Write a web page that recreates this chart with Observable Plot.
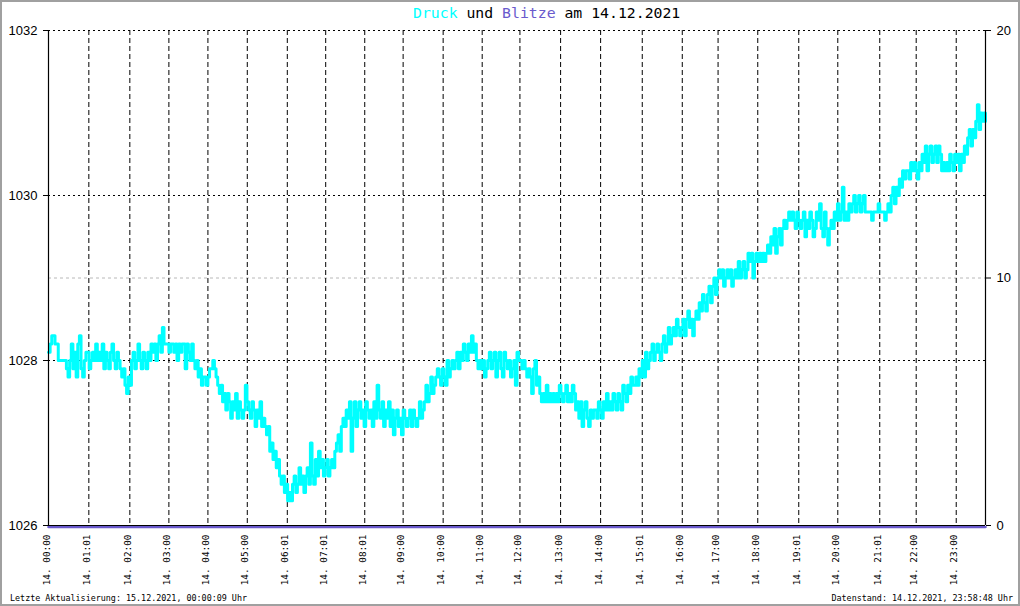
<!DOCTYPE html>
<html>
<head>
<meta charset="utf-8">
<script src="https://cdn.jsdelivr.net/npm/d3@7"></script>
<script src="https://cdn.jsdelivr.net/npm/@observablehq/plot@0.6"></script>
<style>
  body { margin: 0; background: #fff; }
  #wrap { position: relative; width: 1020px; height: 606px; background: #fff; overflow: hidden; }
  #frame { position: absolute; left: 0; top: 0; width: 1020px; height: 606px; box-sizing: border-box; border: 2px solid #a0a0a0; pointer-events: none; }
  #chart { position: absolute; left: 0; top: 0; }
  #title { position: absolute; left: 413px; top: 4.5px; font-family: "DejaVu Sans Mono", monospace; font-size: 14.8px; line-height: 15px; white-space: pre; color: #000; }
  .foot { position: absolute; top: 594px; font-family: "DejaVu Sans Mono", monospace; font-size: 8.4px; line-height: 9px; white-space: pre; color: #000; }
</style>
</head>
<body>
<div id="wrap">
  <div id="chart"></div>
  <div id="title"><span style="color:#00ffff">Druck</span> und <span style="color:#6a5acd">Blitze</span> am 14.12.2021</div>
  <div class="foot" style="left:10px">Letzte Aktualisierung: 15.12.2021, 00:00:09 Uhr</div>
  <div class="foot" style="right:7px">Datenstand: 14.12.2021, 23:58:48 Uhr</div>
  <div id="frame"></div>
</div>
<script>
// Luftdruck (hPa), Messwerte in Folge (Index-basierte x-Achse wie im Original), je Zeile eine Stunde
const pressure = [
  1028.1, 1028.2, 1028.3, 1028.3, 1028.2, 1028.2, 1028.0, 1028.0, 1028.0, 1028.0, 1028.0, 1027.9, 1027.8, 1028.0, 1028.2, 1027.9, 1028.1, 1027.8, 1028.2, 1028.3, 1027.9, 1027.8, 1028.0, 1028.1,
  1028.1, 1027.9, 1028.0, 1028.1, 1028.0, 1028.2, 1028.0, 1028.1, 1028.0, 1028.2, 1027.9, 1028.1, 1028.0, 1027.9, 1028.1, 1028.2, 1028.0, 1027.9, 1028.1, 1028.0, 1027.9, 1027.8, 1027.9, 1027.7,
  1027.6, 1027.8, 1027.7, 1028.0, 1028.1, 1027.9, 1028.0, 1028.2, 1028.0, 1027.9, 1028.1, 1028.0, 1027.9, 1028.1, 1028.0, 1028.2, 1028.1, 1028.2, 1028.0, 1028.2, 1028.3, 1028.1, 1028.4, 1028.2,
  1028.2, 1028.2, 1028.1, 1028.2, 1028.2, 1028.1, 1028.2, 1028.0, 1028.2, 1028.1, 1028.2, 1028.2, 1027.9, 1028.2, 1028.1, 1028.0, 1028.2, 1028.0, 1027.9, 1028.0, 1027.8, 1027.9, 1027.7, 1027.8,
  1027.8, 1027.7, 1027.8, 1027.9, 1027.9, 1028.0, 1027.9, 1027.8, 1027.7, 1027.6, 1027.7, 1027.5, 1027.6, 1027.4, 1027.6, 1027.5, 1027.3, 1027.5, 1027.4, 1027.6, 1027.3, 1027.5, 1027.4, 1027.3,
  1027.4, 1027.7, 1027.5, 1027.4, 1027.3, 1027.5, 1027.4, 1027.2, 1027.4, 1027.3, 1027.5, 1027.2, 1027.3, 1027.2, 1027.1, 1027.2, 1026.9, 1027.0, 1026.8, 1026.9, 1026.7, 1026.8, 1026.6, 1026.5,
  1026.6, 1026.4, 1026.5, 1026.3, 1026.4, 1026.3, 1026.5, 1026.6, 1026.4, 1026.5, 1026.7, 1026.5, 1026.6, 1026.4, 1026.6, 1026.7, 1026.5, 1027.0, 1026.6, 1026.5, 1026.8, 1026.6, 1026.9, 1026.7,
  1026.8, 1026.6, 1026.7, 1026.8, 1026.6, 1026.7, 1026.8, 1026.7, 1026.9, 1027.0, 1027.1, 1026.9, 1027.2, 1027.3, 1027.2, 1027.4, 1027.3, 1027.5, 1026.9, 1027.3, 1027.5, 1027.2, 1027.4, 1027.5,
  1027.3, 1027.4, 1027.2, 1027.5, 1027.4, 1027.3, 1027.4, 1027.2, 1027.5, 1027.3, 1027.7, 1027.4, 1027.3, 1027.5, 1027.2, 1027.4, 1027.3, 1027.5, 1027.2, 1027.4, 1027.1, 1027.3, 1027.4, 1027.2,
  1027.3, 1027.1, 1027.4, 1027.3, 1027.2, 1027.3, 1027.4, 1027.2, 1027.4, 1027.3, 1027.2, 1027.3, 1027.5, 1027.3, 1027.4, 1027.5, 1027.7, 1027.5, 1027.6, 1027.8, 1027.6, 1027.7, 1027.8, 1027.9,
  1027.8, 1027.7, 1027.9, 1027.8, 1027.7, 1028.0, 1027.8, 1027.9, 1028.0, 1027.9, 1028.0, 1028.1, 1027.9, 1028.1, 1028.0, 1028.2, 1028.1, 1028.0, 1028.2, 1028.1, 1028.3, 1028.1, 1028.2, 1028.0,
  1027.9, 1028.0, 1027.9, 1028.0, 1027.8, 1027.9, 1028.0, 1028.1, 1027.9, 1028.0, 1028.1, 1027.8, 1028.0, 1028.1, 1027.9, 1027.8, 1028.1, 1028.0, 1027.9, 1028.0, 1027.8, 1027.9, 1028.0, 1027.7,
  1028.1, 1028.0, 1028.0, 1027.9, 1028.0, 1027.9, 1027.8, 1027.9, 1027.8, 1027.6, 1027.9, 1028.0, 1027.7, 1027.8, 1027.6, 1027.5, 1027.6, 1027.5, 1027.7, 1027.5, 1027.6, 1027.5, 1027.6, 1027.5,
  1027.6, 1027.5, 1027.7, 1027.6, 1027.5, 1027.6, 1027.7, 1027.5, 1027.6, 1027.5, 1027.7, 1027.6, 1027.4, 1027.5, 1027.3, 1027.5, 1027.2, 1027.4, 1027.5, 1027.3, 1027.2, 1027.4, 1027.3, 1027.4,
  1027.4, 1027.3, 1027.5, 1027.4, 1027.3, 1027.5, 1027.4, 1027.6, 1027.4, 1027.5, 1027.4, 1027.6, 1027.5, 1027.4, 1027.6, 1027.5, 1027.4, 1027.7, 1027.6, 1027.5, 1027.7, 1027.6, 1027.8, 1027.7,
  1027.7, 1027.8, 1027.7, 1027.9, 1027.8, 1028.0, 1027.8, 1028.1, 1027.9, 1028.0, 1028.1, 1028.2, 1028.0, 1028.1, 1028.2, 1028.1, 1028.0, 1028.2, 1028.3, 1028.1, 1028.2, 1028.4, 1028.2, 1028.3,
  1028.4, 1028.3, 1028.5, 1028.4, 1028.3, 1028.4, 1028.5, 1028.3, 1028.5, 1028.6, 1028.4, 1028.5, 1028.3, 1028.5, 1028.6, 1028.5, 1028.7, 1028.6, 1028.8, 1028.7, 1028.6, 1028.8, 1028.9, 1028.7,
  1028.9, 1029.0, 1028.8, 1029.0, 1029.1, 1029.0, 1029.1, 1028.9, 1029.0, 1029.1, 1029.0, 1029.1, 1028.9, 1029.0, 1029.1, 1029.0, 1029.2, 1029.0, 1029.1, 1029.2, 1029.0, 1029.1, 1029.3, 1029.2,
  1029.3, 1029.0, 1029.2, 1029.3, 1029.2, 1029.3, 1029.2, 1029.3, 1029.2, 1029.3, 1029.4, 1029.3, 1029.5, 1029.4, 1029.6, 1029.3, 1029.5, 1029.6, 1029.4, 1029.6, 1029.7, 1029.6, 1029.7, 1029.8,
  1029.7, 1029.8, 1029.7, 1029.6, 1029.8, 1029.7, 1029.6, 1029.7, 1029.8, 1029.5, 1029.7, 1029.6, 1029.8, 1029.7, 1029.5, 1029.6, 1029.8, 1029.7, 1029.9, 1029.6, 1029.5, 1029.8, 1029.6, 1029.4,
  1029.6, 1029.7, 1029.6, 1029.8, 1029.7, 1029.9, 1029.7, 1029.8, 1030.1, 1029.7, 1029.8, 1029.7, 1029.9, 1029.8, 1029.9, 1030.0, 1029.8, 1029.9, 1030.0, 1029.8, 1029.9, 1030.0, 1029.8, 1029.8,
  1029.8, 1029.8, 1029.7, 1029.8, 1029.8, 1029.8, 1029.9, 1029.8, 1029.8, 1029.8, 1029.7, 1029.8, 1029.9, 1029.8, 1030.0, 1030.1, 1029.9, 1030.1, 1030.0, 1030.2, 1030.1, 1030.3, 1030.2, 1030.3,
  1030.3, 1030.2, 1030.4, 1030.3, 1030.4, 1030.3, 1030.2, 1030.4, 1030.3, 1030.5, 1030.4, 1030.6, 1030.3, 1030.5, 1030.6, 1030.4, 1030.5, 1030.6, 1030.4, 1030.6, 1030.5, 1030.3, 1030.4, 1030.3,
  1030.4, 1030.3, 1030.5, 1030.4, 1030.3, 1030.5, 1030.4, 1030.5, 1030.3, 1030.5, 1030.4, 1030.6, 1030.5, 1030.7, 1030.8, 1030.6, 1030.8, 1030.7, 1030.9, 1031.1, 1030.8, 1031.0, 1030.9, 1031.0,
  1030.9
];

// Blitze (Anzahl) – an diesem Tag keine
const blitzIndex = [0, 576];
const blitzCount = [0, 0];

// x-Achsen-Beschriftung: Position (Messwert-Index) und Text
const tickIndex = [0, 24.8, 50, 74, 98, 122.2, 146.8, 170.4, 194.4, 218, 242.6, 266.6, 289.8, 314.8, 339.4, 365, 389.6, 411.6, 436, 461.2, 485.2, 511, 533.4, 558];
const tickLabels = ["14. 00:00", "14. 01:01", "14. 02:00", "14. 03:00", "14. 04:00", "14. 05:00",
  "14. 06:01", "14. 07:01", "14. 08:01", "14. 09:00", "14. 10:00", "14. 11:00", "14. 12:00",
  "14. 13:00", "14. 14:00", "14. 15:01", "14. 16:00", "14. 17:00", "14. 18:00", "14. 19:01",
  "14. 20:00", "14. 21:01", "14. 22:00", "14. 23:00"];

const pressureTicks = [1026, 1028, 1030, 1032];
const blitzTicks = [0, 10, 20];
const pMin = 1026, pMax = 1032, bMax = 20;
const blitzToP = b => pMin + b * (pMax - pMin) / bMax;

const data = pressure.map((p, i) => ({i, p}));
const blitzData = blitzIndex.map((i, k) => ({i, p: blitzToP(blitzCount[k])}));
const xTicks = tickIndex.map((t, k) => ({t, label: tickLabels[k]}));

const chart = Plot.plot({
  width: 1020,
  height: 606,
  marginTop: 30,
  marginBottom: 81,
  marginLeft: 48,
  marginRight: 35,
  x: {domain: [0, pressure.length - 1], axis: null},
  y: {domain: [pMin, pMax]},
  style: {background: "transparent", fontFamily: "Liberation Sans, sans-serif"},
  marks: [
    Plot.ruleY([blitzToP(10)], {stroke: "#b8b8b8", strokeDasharray: "3,3"}),
    Plot.ruleY([1028, 1030, 1032], {stroke: "#000", strokeDasharray: "2,3"}),
    Plot.ruleX(tickIndex.slice(1), {stroke: "#000", strokeDasharray: "5,3"}),
    Plot.line(data, {x: "i", y: "p", curve: "step-after", stroke: "#00ffff", strokeWidth: 3}),
    Plot.line(blitzData, {x: "i", y: "p", stroke: "#6a5acd", strokeWidth: 2.5, dy: 1.5}),
    Plot.ruleX([0, pressure.length - 1], {stroke: "#000", strokeWidth: 1.2}),
    Plot.ruleY([pMin], {stroke: "#000", strokeWidth: 1}),
    Plot.axisY(pressureTicks, {anchor: "left", tickSize: 5, tickPadding: 6, fontSize: 13, label: null, tickFormat: d => String(d)}),
    Plot.axisY(blitzTicks.map(blitzToP), {anchor: "right", tickSize: 5, tickPadding: 6, fontSize: 13, label: null,
      tickFormat: d => String(Math.round((d - pMin) * bMax / (pMax - pMin)))}),
    Plot.text(xTicks, {x: "t", text: "label", frameAnchor: "bottom", rotate: -90, textAnchor: "end",
      dy: 9, dx: 1, fontFamily: "DejaVu Sans Mono, monospace", fontSize: 9.4, fill: "#000"})
  ]
});
document.getElementById("chart").appendChild(chart);
</script>
</body>
</html>
